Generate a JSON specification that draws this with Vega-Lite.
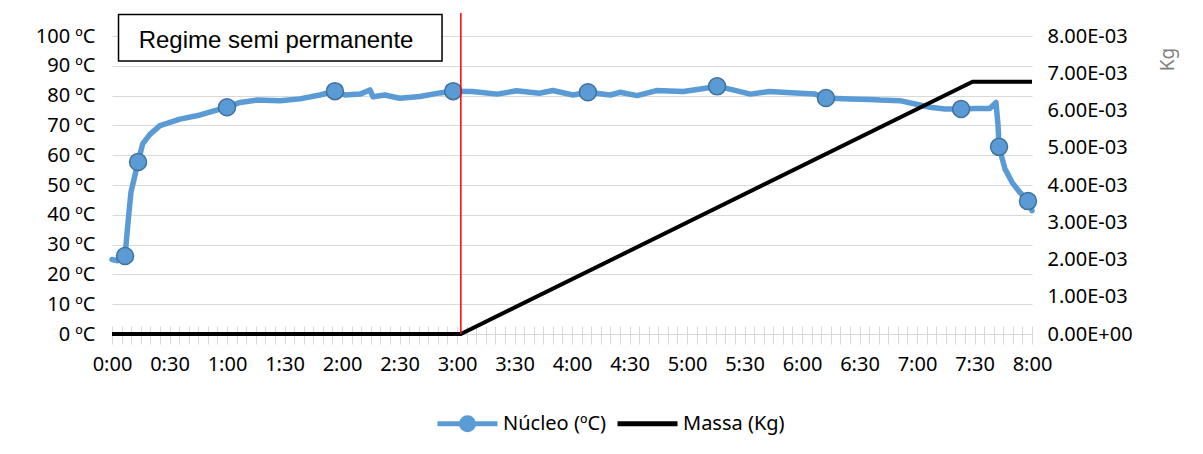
{
  "$schema": "https://vega.github.io/schema/vega-lite/v6.json",
  "width": 920,
  "height": 298,
  "autosize": "none",
  "padding": {"left": 112, "top": 36, "right": 171, "bottom": 120},
  "background": "white",
  "config": {
    "view": {"stroke": null},
    "font": "Noto Sans",
    "axis": {"labelFont": "Noto Sans", "labelFontSize": 20, "labelColor": "black"}
  },
  "datasets": {
    "nucleo": [
      {"t": 0, "temp": 25.0}, {"t": 3, "temp": 24.6}, {"t": 6.8, "temp": 26.2},
      {"t": 8.5, "temp": 38.4}, {"t": 9.9, "temp": 47.6}, {"t": 13.6, "temp": 57.7},
      {"t": 16, "temp": 63.8}, {"t": 19.8, "temp": 67.0}, {"t": 25, "temp": 69.9},
      {"t": 35.5, "temp": 72.1}, {"t": 46, "temp": 73.5}, {"t": 60, "temp": 76.1},
      {"t": 66.8, "temp": 77.7}, {"t": 75.6, "temp": 78.5}, {"t": 87.7, "temp": 78.3},
      {"t": 98, "temp": 78.9}, {"t": 108.5, "temp": 80.2}, {"t": 116.3, "temp": 81.5},
      {"t": 121.6, "temp": 80.2}, {"t": 129.4, "temp": 80.5}, {"t": 134.6, "temp": 81.9},
      {"t": 136.2, "temp": 79.6}, {"t": 142.4, "temp": 80.2}, {"t": 150, "temp": 79.1},
      {"t": 160.7, "temp": 79.7}, {"t": 171, "temp": 80.9}, {"t": 178, "temp": 81.5},
      {"t": 188, "temp": 81.4}, {"t": 201, "temp": 80.5}, {"t": 211, "temp": 81.6},
      {"t": 223, "temp": 80.8}, {"t": 230, "temp": 81.7}, {"t": 240.5, "temp": 80.2},
      {"t": 248.3, "temp": 81.1}, {"t": 260, "temp": 80.2}, {"t": 265, "temp": 81.1},
      {"t": 274, "temp": 80.0}, {"t": 284, "temp": 81.7}, {"t": 298, "temp": 81.4},
      {"t": 307, "temp": 82.2}, {"t": 315.7, "temp": 83.1}, {"t": 324, "temp": 81.9},
      {"t": 333, "temp": 80.5}, {"t": 343, "temp": 81.4}, {"t": 359, "temp": 80.8},
      {"t": 366.8, "temp": 80.5}, {"t": 372.5, "temp": 79.2}, {"t": 385, "temp": 78.9},
      {"t": 395.5, "temp": 78.7}, {"t": 400.7, "temp": 78.5}, {"t": 411, "temp": 78.3},
      {"t": 419, "temp": 77.2}, {"t": 426.8, "temp": 76.1}, {"t": 434.6, "temp": 75.5},
      {"t": 443, "temp": 75.5}, {"t": 450.3, "temp": 75.7}, {"t": 458, "temp": 75.7},
      {"t": 461.2, "temp": 77.7}, {"t": 462.3, "temp": 69.9}, {"t": 462.8, "temp": 62.8},
      {"t": 465.9, "temp": 55.4}, {"t": 469.6, "temp": 50.9}, {"t": 473.7, "temp": 47.5},
      {"t": 477.9, "temp": 44.6}, {"t": 480, "temp": 41.4}
    ],
    "marcadores": [
      {"t": 6.8, "temp": 26.2}, {"t": 13.6, "temp": 57.7}, {"t": 60, "temp": 76.1},
      {"t": 116.3, "temp": 81.5}, {"t": 178, "temp": 81.5}, {"t": 248.3, "temp": 81.1},
      {"t": 315.7, "temp": 83.1}, {"t": 372.5, "temp": 79.2}, {"t": 443, "temp": 75.5},
      {"t": 462.8, "temp": 62.8}, {"t": 477.9, "temp": 44.6}
    ],
    "massa": [
      {"t": 0, "massa": 0}, {"t": 182, "massa": 0},
      {"t": 449, "massa": 0.00677}, {"t": 480, "massa": 0.00677}
    ]
  },
  "layer": [
    {
      "layer": [
        {
          "data": {"name": "nucleo"},
          "mark": {"type": "line", "strokeWidth": 5.5, "strokeCap": "round", "strokeJoin": "round"},
          "encoding": {
            "x": {
              "field": "t", "type": "quantitative",
              "scale": {"domain": [0, 480], "nice": false},
              "axis": {
                "orient": "bottom", "offset": -8, "tickCount": 96, "tickSize": 18,
                "tickColor": "#d9d9d9", "tickWidth": 1, "domain": false, "grid": false,
                "labelExpr": "datum.value % 30 == 0 ? floor(datum.value/60) + ':' + (datum.value % 60 == 0 ? '00' : '30') : ''",
                "labelOverlap": false, "labelFlush": false, "labelPadding": 10,
                "labelBaseline": "top", "title": null
              }
            },
            "y": {
              "field": "temp", "type": "quantitative",
              "scale": {"domain": [0, 100], "nice": false},
              "axis": {
                "values": [0, 10, 20, 30, 40, 50, 60, 70, 80, 90, 100],
                "grid": true, "gridColor": "#d9d9d9", "gridWidth": 1, "labelOverlap": false,
                "domain": false, "ticks": false, "labelPadding": 17,
                "labelExpr": "datum.value + ' ºC'", "labelFlush": false, "title": null
              }
            },
            "color": {
              "datum": "Núcleo (ºC)", "type": "nominal",
              "scale": {"domain": ["Núcleo (ºC)", "Massa (Kg)"], "range": ["#5b9bd5", "#000000"]},
              "legend": {
                "title": null, "orient": "none", "legendX": 323, "legendY": 355,
                "direction": "horizontal", "symbolSize": 3600, "symbolStrokeWidth": 5,
                "symbolType": "M-1,0L1,0", "labelFont": "Noto Sans", "labelFontSize": 20,
                "labelColor": "black", "labelOffset": 3, "columnPadding": 0,
                "encode": {
                  "symbols": {
                    "update": {
                      "shape": {"signal": "datum.value == 'Núcleo (ºC)' ? 'M-1,0L1,0M-0.2,0A0.2,0.2 0 1,1 0.2,0A0.2,0.2 0 1,1 -0.2,0Z' : 'M-1,0L1,0M0,-0.2L0,-0.2M0,0.2L0,0.2'"},
                      "fill": {"signal": "datum.value == 'Núcleo (ºC)' ? '#5b9bd5' : 'transparent'"}
                    }
                  }
                }
              }
            }
          }
        },
        {
          "data": {"name": "marcadores"},
          "mark": {"type": "point", "shape": "circle", "filled": true, "size": 289, "fill": "#5b9bd5", "stroke": "#41719c", "strokeWidth": 1.5, "opacity": 1},
          "encoding": {
            "x": {"field": "t", "type": "quantitative", "scale": {"domain": [0, 480], "nice": false}},
            "y": {
              "field": "temp", "type": "quantitative", "scale": {"domain": [0, 100], "nice": false},
              "axis": {
                "values": [0, 10, 20, 30, 40, 50, 60, 70, 80, 90, 100],
                "grid": true, "gridColor": "#d9d9d9", "gridWidth": 1, "labelOverlap": false,
                "domain": false, "ticks": false, "labelPadding": 17,
                "labelExpr": "datum.value + ' ºC'", "labelFlush": false, "title": null
              }
            }
          }
        },
        {
          "data": {"values": [{}]},
          "mark": {"type": "rect", "fill": "white", "stroke": "black", "strokeWidth": 1.5},
          "encoding": {
            "x": {"datum": 3.4, "type": "quantitative", "scale": {"domain": [0, 480], "nice": false}},
            "x2": {"datum": 172.2},
            "y": {
              "datum": 91.6, "type": "quantitative", "scale": {"domain": [0, 100], "nice": false},
              "axis": {
                "values": [0, 10, 20, 30, 40, 50, 60, 70, 80, 90, 100],
                "grid": true, "gridColor": "#d9d9d9", "gridWidth": 1, "labelOverlap": false,
                "domain": false, "ticks": false, "labelPadding": 17,
                "labelExpr": "datum.value + ' ºC'", "labelFlush": false, "title": null
              }
            },
            "y2": {"datum": 107.2}
          }
        },
        {
          "data": {"values": [{}]},
          "mark": {"type": "text", "text": "Regime semi permanente", "font": "Liberation Sans", "fontSize": 24, "color": "black", "align": "center", "baseline": "alphabetic"},
          "encoding": {
            "x": {"datum": 85.6, "type": "quantitative", "scale": {"domain": [0, 480], "nice": false}},
            "y": {
              "datum": 96.0, "type": "quantitative", "scale": {"domain": [0, 100], "nice": false},
              "axis": {
                "values": [0, 10, 20, 30, 40, 50, 60, 70, 80, 90, 100],
                "grid": true, "gridColor": "#d9d9d9", "gridWidth": 1, "labelOverlap": false,
                "domain": false, "ticks": false, "labelPadding": 17,
                "labelExpr": "datum.value + ' ºC'", "labelFlush": false, "title": null
              }
            }
          }
        }
      ]
    },
    {
      "data": {"name": "massa"},
      "mark": {"type": "line", "strokeWidth": 4},
      "encoding": {
        "x": {"field": "t", "type": "quantitative", "scale": {"domain": [0, 480], "nice": false}},
        "y": {
          "field": "massa", "type": "quantitative",
          "scale": {"domain": [0, 0.008], "nice": false},
          "axis": {
            "orient": "right",
            "values": [0, 0.001, 0.002, 0.003, 0.004, 0.005, 0.006, 0.007, 0.008],
            "grid": false, "domain": false, "ticks": false, "labelPadding": 15,
            "labelFlush": false, "labelOverlap": false,
            "labelExpr": "datum.value < 0.0000001 ? '0.00E+00' : format(datum.value*1000, '.2f') + 'E-03'",
            "title": "Kg", "titleAngle": 270, "titleX": 135, "titleY": 23,
            "titleAlign": "center", "titleBaseline": "middle",
            "titleColor": "#7f7f7f", "titleFontSize": 19, "titleFontWeight": "normal", "titleFont": "Noto Sans"
          }
        },
        "color": {
          "datum": "Massa (Kg)", "type": "nominal",
          "scale": {"domain": ["Núcleo (ºC)", "Massa (Kg)"], "range": ["#5b9bd5", "#000000"]},
          "legend": {
            "title": null, "orient": "none", "legendX": 323, "legendY": 355,
            "direction": "horizontal", "symbolSize": 3600, "symbolStrokeWidth": 5,
            "symbolType": "M-1,0L1,0", "labelFont": "Noto Sans", "labelFontSize": 20,
            "labelColor": "black", "labelOffset": 3, "columnPadding": 0,
            "encode": {
              "symbols": {
                "update": {
                  "shape": {"signal": "datum.value == 'Núcleo (ºC)' ? 'M-1,0L1,0M-0.2,0A0.2,0.2 0 1,1 0.2,0A0.2,0.2 0 1,1 -0.2,0Z' : 'M-1,0L1,0M0,-0.2L0,-0.2M0,0.2L0,0.2'"},
                  "fill": {"signal": "datum.value == 'Núcleo (ºC)' ? '#5b9bd5' : 'transparent'"}
                }
              }
            }
          }
        }
      }
    },
    {
      "data": {"values": [{}]},
      "mark": {"type": "rule", "color": "#ff0000", "strokeWidth": 1.5},
      "encoding": {
        "x": {"datum": 182, "type": "quantitative", "scale": {"domain": [0, 480], "nice": false}},
        "y": {"datum": 0, "type": "quantitative", "scale": {"domain": [0, 0.008], "nice": false}, "axis": null},
        "y2": {"datum": 0.008616}
      }
    }
  ],
  "resolve": {"scale": {"y": "independent"}}
}
